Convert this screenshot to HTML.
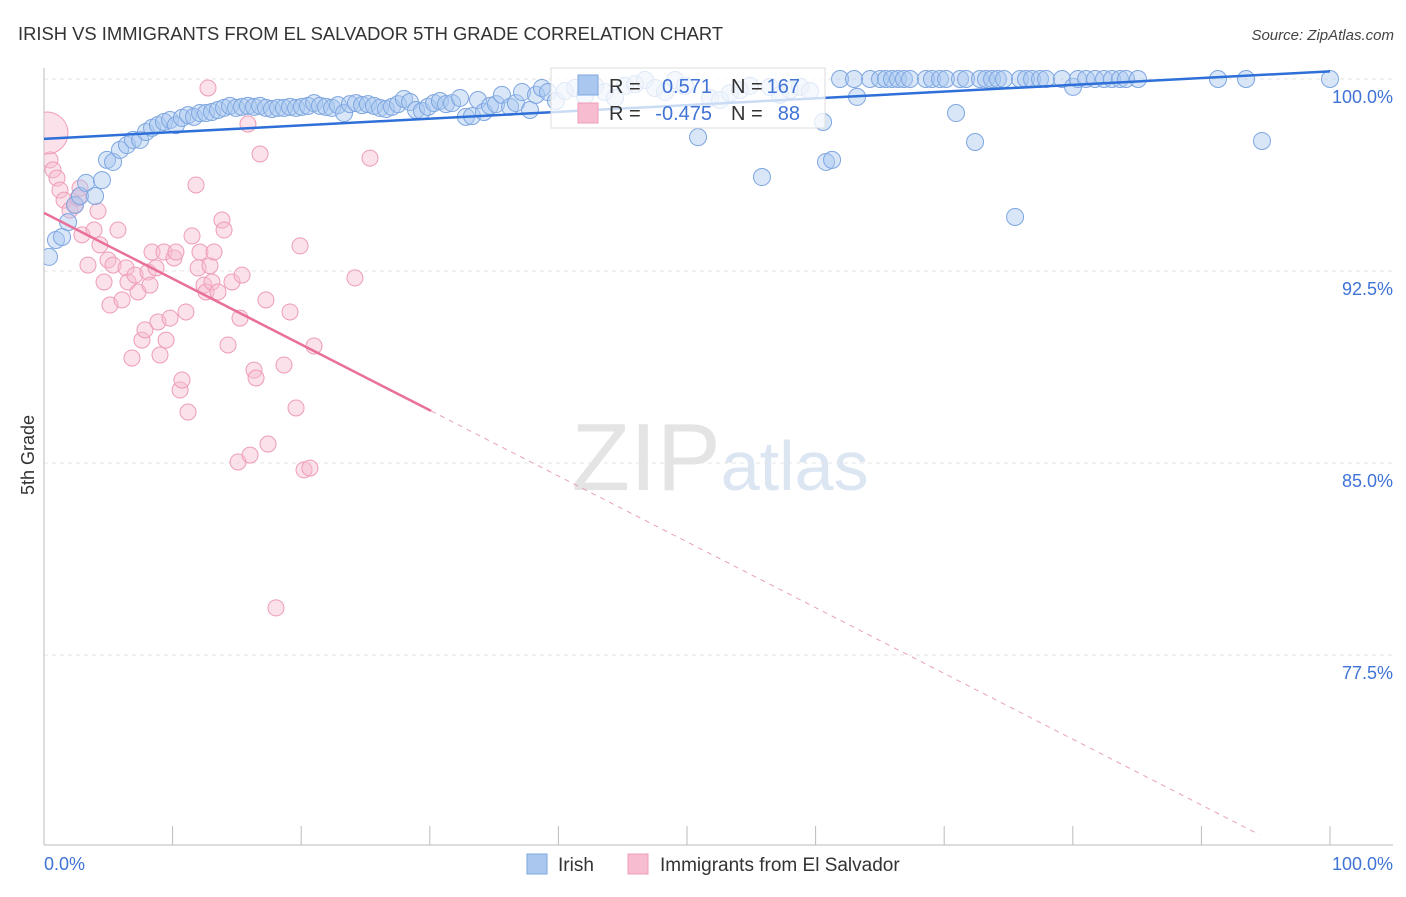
<!DOCTYPE html>
<html><head><meta charset="utf-8"><style>
body{margin:0;background:#fff;font-family:"Liberation Sans",sans-serif}
svg text{font-family:"Liberation Sans",sans-serif}
</style></head><body>
<svg id="chart" width="1406" height="892" xmlns="http://www.w3.org/2000/svg">
<defs><clipPath id="plotclip"><rect x="44" y="60" width="1362" height="785"/></clipPath></defs>
<text x="18" y="40" font-size="18.4" fill="#333">IRISH VS IMMIGRANTS FROM EL SALVADOR 5TH GRADE CORRELATION CHART</text>
<text x="1394" y="40" font-size="15" fill="#444" text-anchor="end" font-style="italic">Source: ZipAtlas.com</text>
<text x="720" y="490" font-size="96" fill="#e4e4e4" text-anchor="middle" font-family="Liberation Serif">ZIP<tspan fill="#dce6f3" font-family="Liberation Sans" font-size="70">atlas</tspan></text>
<g id="grid"></g><g id="axes"></g><g id="pink" clip-path="url(#plotclip)"></g><g id="blue" clip-path="url(#plotclip)"></g><g id="trends"></g>
<text transform="translate(34,455) rotate(-90)" font-size="18" fill="#333" text-anchor="middle">5th Grade</text>
<g>
<rect x="551" y="68" width="274" height="60" fill="#fff" fill-opacity="0.75" stroke="#ddd"/>
<rect x="578" y="75" width="20" height="20" fill="#a9c7ef" stroke="#7ea6e0"/>
<rect x="578" y="103" width="20" height="20" fill="#f7bcd0" stroke="#ee9cb8"/>
<text x="609" y="93" font-size="20" fill="#333">R =</text><text x="712" y="93" font-size="20" fill="#3f73d6" text-anchor="end">0.571</text>
<text x="731" y="93" font-size="20" fill="#333">N =</text><text x="800" y="93" font-size="20" fill="#3f73d6" text-anchor="end">167</text>
<text x="609" y="120" font-size="20" fill="#333">R =</text><text x="712" y="120" font-size="20" fill="#3f73d6" text-anchor="end">-0.475</text>
<text x="731" y="120" font-size="20" fill="#333">N =</text><text x="800" y="120" font-size="20" fill="#3f73d6" text-anchor="end">88</text>
</g>
<g>
<rect x="527" y="854" width="20" height="20" fill="#a9c7ef" stroke="#7ea6e0"/>
<text x="558" y="871" font-size="19" fill="#333">Irish</text>
<rect x="628" y="854" width="20" height="20" fill="#f7bcd0" stroke="#ee9cb8"/>
<text x="660" y="871" font-size="19" fill="#333">Immigrants from El Salvador</text>
</g>
</svg>
<script>
const yTicks=[100,92.5,85,77.5];
const yTickLabels=["100.0%","92.5%","85.0%","77.5%"];
const xTickLabels=["0.0%","100.0%"];
const blueX=[0.39,0.93,1.40,1.87,2.41,2.80,3.27,3.97,4.51,4.90,5.37,5.91,6.45,6.92,7.47,7.93,8.40,8.86,9.33,9.80,10.26,10.73,11.20,11.66,12.13,12.60,13.06,13.53,14.00,14.46,14.93,15.40,15.86,16.33,16.80,17.26,17.73,18.20,18.66,19.13,19.60,20.06,20.53,21.00,21.46,21.93,22.40,22.86,23.33,23.79,24.26,24.73,25.19,25.66,26.13,26.59,27.06,27.53,27.99,28.46,28.93,29.39,29.86,30.33,30.79,31.26,31.73,32.35,32.81,33.28,33.75,34.21,34.68,35.15,35.61,36.24,36.70,37.17,37.79,38.26,38.72,39.19,39.81,40.51,41.29,42.07,42.85,43.62,44.40,45.18,45.96,46.73,47.51,48.29,49.07,49.84,50.86,51.79,52.57,53.34,54.12,54.90,55.83,56.45,57.23,58.01,58.79,59.56,60.58,60.81,61.28,61.90,62.99,63.22,64.23,65.01,65.47,65.94,66.41,66.87,67.34,68.58,69.05,69.67,70.14,70.92,71.23,71.70,72.40,72.78,73.25,73.72,74.18,74.65,75.51,75.89,76.36,76.83,77.45,77.92,79.16,80.02,80.40,81.03,81.73,82.43,83.05,83.67,84.14,85.07,91.29,93.47,94.71,100];
const blueY=[93.05,93.71,93.83,94.41,95.08,95.43,95.94,95.43,96.05,96.84,96.76,97.23,97.42,97.62,97.62,97.93,98.09,98.20,98.32,98.40,98.20,98.48,98.59,98.52,98.67,98.67,98.71,98.79,98.87,98.95,98.87,98.91,98.95,98.91,98.95,98.87,98.83,98.87,98.87,98.91,98.87,98.91,98.95,99.06,98.95,98.91,98.87,98.98,98.67,99.02,99.06,98.98,99.02,98.95,98.87,98.83,98.91,99.02,99.22,99.10,98.79,98.75,98.91,99.06,99.14,99.02,99.06,99.26,98.52,98.55,99.18,98.71,98.95,99.02,99.38,98.91,99.06,99.49,98.79,99.38,99.65,99.49,99.14,99.53,99.65,99.34,99.73,99.49,99.26,99.73,99.80,99.96,99.65,99.49,99.96,99.73,97.73,99.26,99.18,99.45,99.57,99.73,96.17,99.69,99.38,99.57,99.69,99.53,98.32,96.76,96.84,100,100,99.30,100,100,100,100,100,100,100,100,100,100,100,98.67,100,100,97.54,100,100,100,100,100,94.61,100,100,100,100,100,100,99.69,100,100,100,100,100,100,100,100,100,100,97.58,100];
const pinkX=[0.47,0.70,1.01,1.24,1.56,2.02,2.41,2.64,2.80,2.95,3.42,3.89,4.20,4.35,4.67,4.98,5.13,5.37,5.75,6.07,6.38,6.53,6.84,7.08,7.31,7.62,7.85,8.09,8.24,8.40,8.71,8.86,9.02,9.33,9.49,9.80,10.11,10.26,10.58,10.73,11.04,11.20,11.51,11.82,11.98,12.13,12.44,12.60,12.75,12.91,13.06,13.22,13.53,13.84,14.00,14.31,14.62,15.09,15.24,15.40,15.86,16.02,16.33,16.49,16.80,17.26,17.42,18.04,18.66,19.13,19.60,19.91,20.22,20.68,21.00,24.18,25.35];
const pinkY=[96.84,96.45,96.13,95.66,95.27,94.88,95.08,95.35,95.74,93.91,92.73,94.10,94.84,93.52,92.07,92.93,91.17,92.73,94.10,91.37,92.62,92.07,89.10,92.34,91.68,89.80,90.20,92.46,91.95,93.24,92.62,90.51,89.22,93.24,89.80,90.66,93.01,93.24,87.85,88.24,90.90,86.99,93.87,95.86,92.62,93.24,91.95,91.68,99.65,92.70,92.07,93.24,91.68,94.49,94.10,89.61,92.07,85.04,90.66,92.34,98.24,85.31,88.63,88.32,97.07,91.37,85.74,79.34,88.83,90.90,87.15,93.48,84.73,84.80,89.57,92.23,96.91];
const bigPinkX=[0.23], bigPinkY=[97.89];
const blueTrend=[97.66,100.3];
const pinkTrend=[94.77,-0.257];
const pinkSolidEnd=30.1, pinkDashEnd=94.5;

const NS="http://www.w3.org/2000/svg";
const sx=v=>44+v*12.86, sy=v=>79+(100-v)*25.6;
function mk(tag,attrs,parent){const e=document.createElementNS(NS,tag);for(const k in attrs)e.setAttribute(k,attrs[k]);document.getElementById(parent).appendChild(e);return e;}
yTicks.forEach((t,i)=>{
 const g=mk('line',{x1:44,x2:1393,y1:sy(t),y2:sy(t),stroke:'#e6e6e6','stroke-dasharray':'4,4'},'grid');
 
 
 const l=mk('text',{x:1393,y:sy(t)+24,'font-size':18,fill:'#3f73d6','text-anchor':'end'},'axes');
 l.textContent=yTickLabels[i];
 
 
});
const ax=mk('line',{x1:44,x2:44,y1:68,y2:845,stroke:'#bbb'},'axes');


const bx=mk('line',{x1:44,x2:1393,y1:845,y2:845,stroke:'#bbb'},'axes');


for(let i=0;i<=10;i++){const t=mk('line',{x1:sx(i*10),x2:sx(i*10),y1:826,y2:845,stroke:'#bbb'},'axes');
 
 }
[[0,'start',44],[1,'end',1393]].forEach(([i,a,x])=>{const l=mk('text',{x:x,y:870,'font-size':18,fill:'#3f73d6','text-anchor':a},'axes');l.textContent=xTickLabels[i];
 
 });
pinkX.forEach((x,i)=>{const c=mk('circle',{cx:sx(x),cy:sy(pinkY[i]),r:8,fill:'#f7bcd0','fill-opacity':0.45,stroke:'#ee9cb8','stroke-width':1},'pink');
 
 });
bigPinkX.forEach((x,i)=>{const c=mk('circle',{cx:sx(x),cy:sy(bigPinkY[i]),r:21,fill:'#f7bcd0','fill-opacity':0.45,stroke:'#ee9cb8'},'pink');
 
 });
blueX.forEach((x,i)=>{const c=mk('circle',{cx:sx(x),cy:sy(blueY[i]),r:8.5,fill:'#a9c7ef','fill-opacity':0.45,stroke:'#7ea6e0','stroke-width':1},'blue');
 
 });
const bt=mk('line',{x1:sx(0),y1:sy(blueTrend[0]),x2:sx(100),y2:sy(blueTrend[1]),stroke:'#2e6fd8','stroke-width':2.5},'trends');


const py=x=>pinkTrend[0]+pinkTrend[1]*x;
const pt=mk('line',{x1:sx(0),y1:sy(py(0)),x2:sx(pinkSolidEnd),y2:sy(py(pinkSolidEnd)),stroke:'#e8709a','stroke-width':2.5},'trends');


const pd=mk('line',{x1:sx(pinkSolidEnd),y1:sy(py(pinkSolidEnd)),x2:sx(pinkDashEnd),y2:sy(py(pinkDashEnd)),stroke:'#e8a0b8','stroke-width':1,'stroke-dasharray':'5,5'},'trends');


</script>
</body></html>
